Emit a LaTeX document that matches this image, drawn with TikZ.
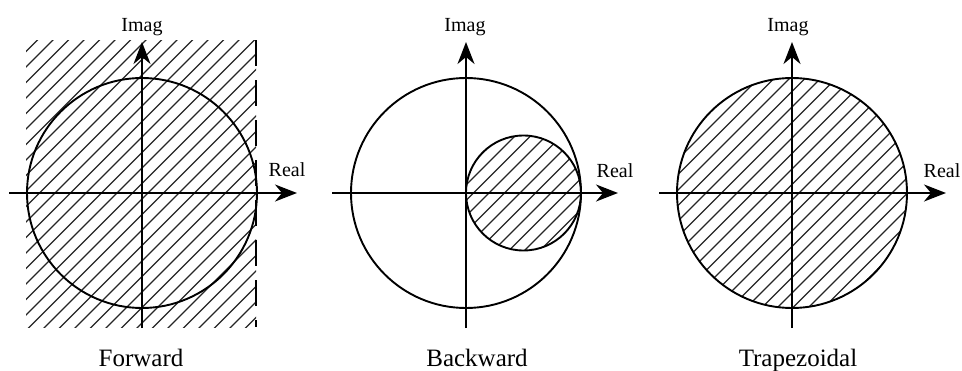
\documentclass[tikz,border=0pt]{standalone}
\usepackage{fontspec}
\setmainfont{Liberation Serif}
\usetikzlibrary{arrows.meta}
\newcommand{\Rad}{115}
\newcommand{\Rule}{1.9pt}
% one full sweep of hatching, cut down by whatever clip is in force
\newcommand{\Hatch}{%
  \foreach \c in {0,15.5,...,1400} {
    \draw[hatch] (\c,0) -- ({\c-370},370);
  }}

\begin{document}
\begin{tikzpicture}[x=1pt,y=-1pt, line join=round,
  rim/.style={line width=\Rule},
  axis/.style={line width=\Rule, -{Stealth[length=22pt,width=17pt,inset=7pt]}},
  hatch/.style={black!85, line width=1.1pt},
  axislabel/.style={font=\fontsize{20}{24}\selectfont, inner sep=0pt, anchor=base},
  caption/.style={font=\fontsize{25}{30}\selectfont, inner sep=0pt, anchor=base}]

  \useasboundingbox (0,0) rectangle (962,370);

  % ---- forward: the whole left half plane --------------------------------
  \coordinate (o1)  at (142,193);
  \coordinate (xl1) at (9,193);
  \coordinate (xr1) at (297,193);
  \coordinate (yb1) at (142,328);
  \coordinate (yt1) at (142,42);
  \begin{scope}
    \clip (26,40) rectangle (256,327);
    \Hatch
  \end{scope}
  \coordinate (et1) at (256,40);
  \coordinate (eb1) at (256,327);
  \draw[rim, dash pattern=on 26pt off 14pt] (et1) -- (eb1);
  \draw[rim] (o1) circle (\Rad);
  \draw[axis] (xl1) -- (xr1);
  \draw[axis] (yb1) -- (yt1);
  \node[axislabel] (imag1) at (142,31) {Imag};
  \node[axislabel] (real1) at (287,176) {Real};
  \node[caption] (forward) at (141,366) {Forward};

  % ---- backward: a small disc on the right -------------------------------
  \coordinate (o2)  at (466,193);
  \coordinate (s2)  at (523.5,193);
  \coordinate (xl2) at (332,193);
  \coordinate (xr2) at (618,193);
  \coordinate (yb2) at (466,328);
  \coordinate (yt2) at (466,42);
  \begin{scope}
    \clip (s2) circle (57.5);
    \Hatch
  \end{scope}
  \draw[rim] (o2) circle (\Rad);
  \draw[rim] (s2) circle (57.5);
  \draw[axis] (xl2) -- (xr2);
  \draw[axis] (yb2) -- (yt2);
  \node[axislabel] (imag2) at (465,31) {Imag};
  \node[axislabel] (real2) at (615,177) {Real};
  \node[caption] (backward) at (477,366) {Backward};

  % ---- trapezoidal: exactly the unit disc --------------------------------
  \coordinate (o3)  at (792,193);
  \coordinate (xl3) at (659,193);
  \coordinate (xr3) at (946,193);
  \coordinate (yb3) at (792,328);
  \coordinate (yt3) at (792,42);
  \begin{scope}
    \clip (o3) circle (\Rad);
    \Hatch
  \end{scope}
  \draw[rim] (o3) circle (\Rad);
  \draw[axis] (xl3) -- (xr3);
  \draw[axis] (yb3) -- (yt3);
  \node[axislabel] (imag3) at (788,31) {Imag};
  \node[axislabel] (real3) at (942,177) {Real};
  \node[caption] (trapezoidal) at (798,366) {Trapezoidal};

\end{tikzpicture}
\end{document}
